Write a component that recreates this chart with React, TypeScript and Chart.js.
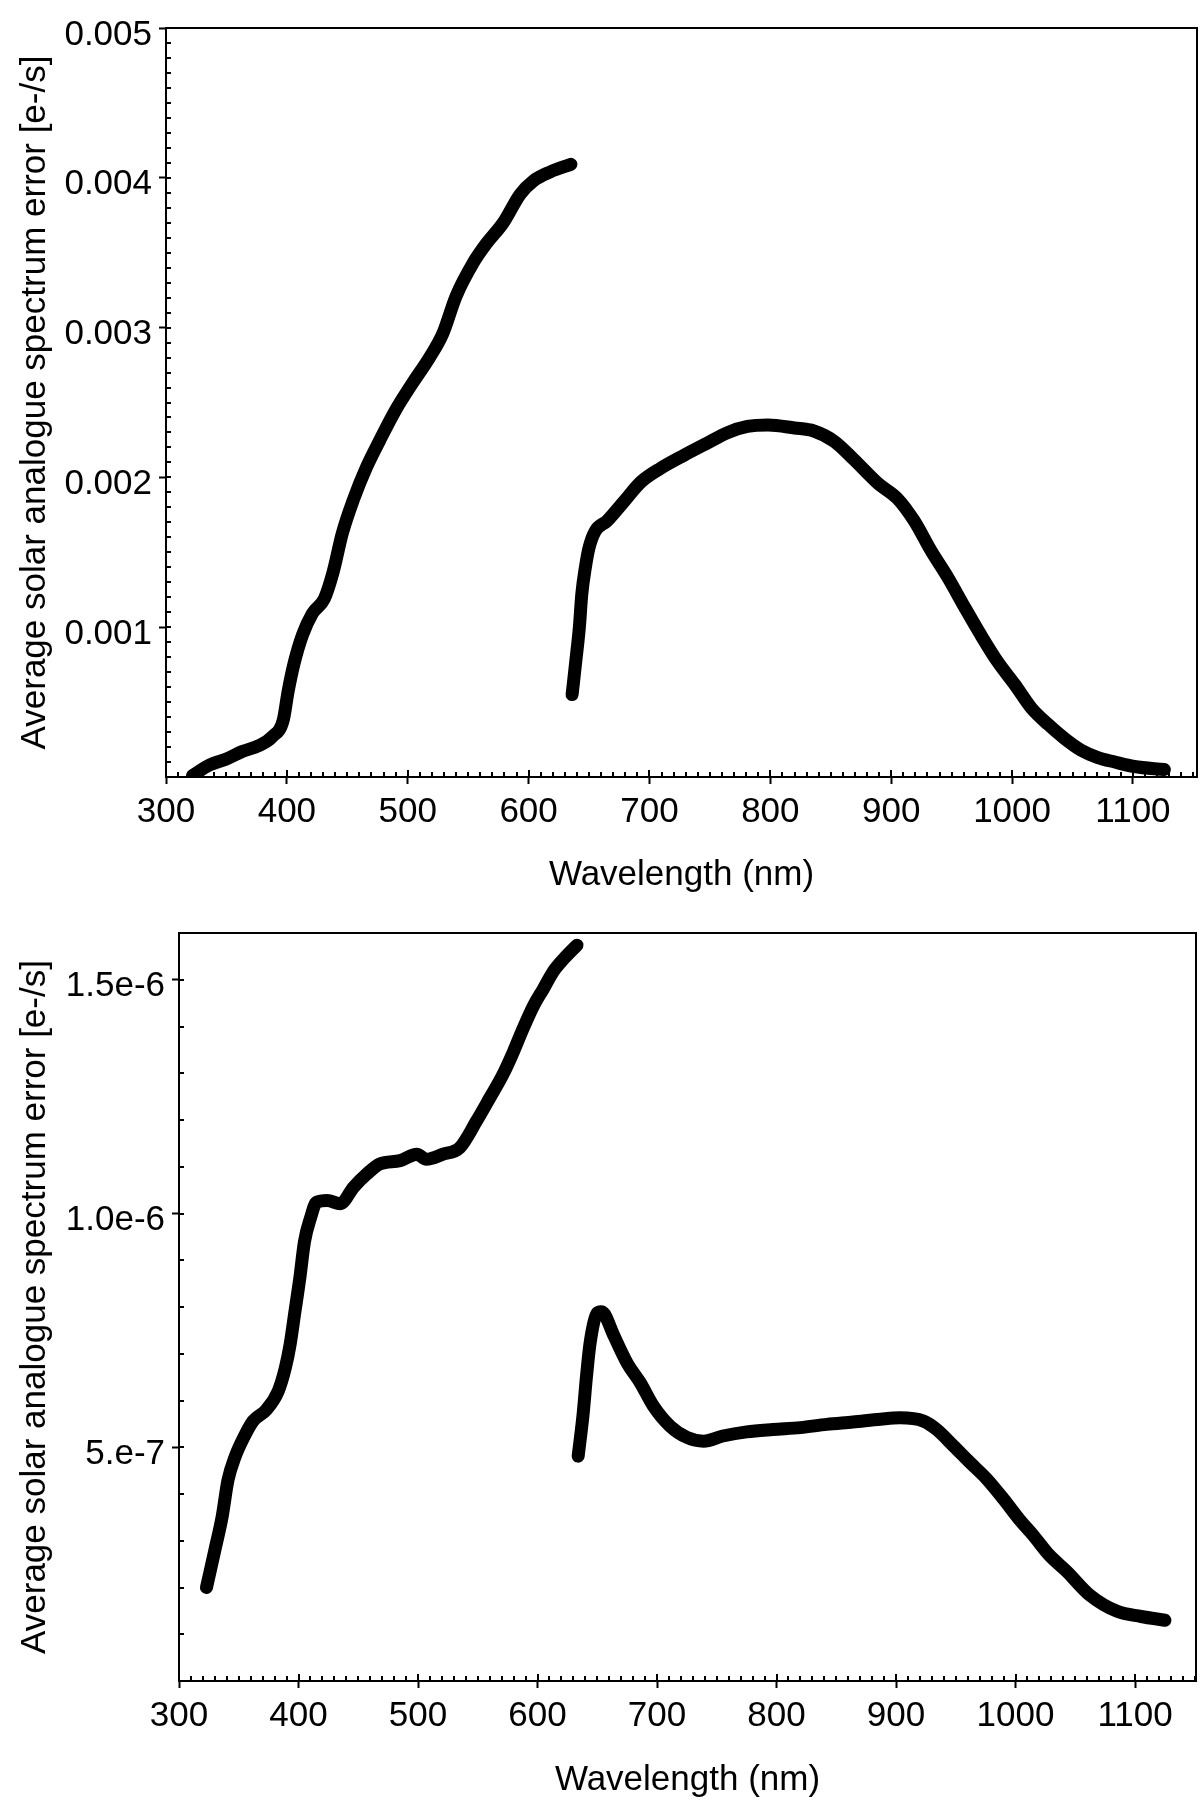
import React, { useEffect, useRef } from 'react';
import { Chart, registerables, ChartConfiguration, Plugin } from 'chart.js';
Chart.register(...registerables);

// tick values / labels
const xTickValues = [300, 400, 500, 600, 700, 800, 900, 1000, 1100];
const topYTickValues = [0.001, 0.002, 0.003, 0.004, 0.005];
const topYTickLabels = ['0.001', '0.002', '0.003', '0.004', '0.005'];
const bottomYTickValues = [5e-7, 1.0e-6, 1.5e-6];
const bottomYTickLabels = ['5.e-7', '1.0e-6', '1.5e-6'];

// top panel, short-wavelength arm
const topShortNm = [322, 336, 350, 363, 377, 388, 397, 401, 406, 413, 421, 431, 438, 446, 455, 466, 477, 490, 504, 518, 529, 540, 554, 565, 579, 593, 604, 618, 635];
const topShortErr = [0.00001, 0.00008, 0.00012, 0.00017, 0.00021, 0.00027, 0.00038, 0.00057, 0.00076, 0.00095, 0.00109, 0.00119, 0.00136, 0.00163, 0.00185, 0.00207, 0.00225, 0.00245, 0.00263, 0.0028, 0.00296, 0.00321, 0.00343, 0.00356, 0.0037, 0.00389, 0.00398, 0.00404, 0.00409];

// top panel, long-wavelength arm
const topLongNm = [636, 639, 642, 644, 647, 650, 655, 665, 679, 693, 709, 729, 748, 765, 781, 798, 820, 836, 853, 869, 889, 905, 919, 933, 947, 961, 974, 988, 1002, 1016, 1030, 1043, 1057, 1071, 1085, 1101, 1126];
const topLongErr = [0.00055, 0.00077, 0.001, 0.00122, 0.0014, 0.00153, 0.00164, 0.00171, 0.00184, 0.00197, 0.00206, 0.00215, 0.00223, 0.0023, 0.00234, 0.00235, 0.00233, 0.00231, 0.00224, 0.00212, 0.00196, 0.00186, 0.00171, 0.00151, 0.00133, 0.00113, 0.00095, 0.00077, 0.00062, 0.00046, 0.00035, 0.00026, 0.00018, 0.00013, 0.0001, 0.00007, 0.00005];

// bottom panel, short-wavelength arm
const bottomShortNm = [323, 330, 336, 341, 347, 354, 362, 373, 383, 389, 393, 397, 401, 405, 410, 415, 424, 435, 446, 457, 468, 485, 499, 507, 521, 535, 549, 560, 571, 580, 588, 597, 605, 613, 622, 633];
const bottomShortErr = [0.2e-6, 0.28e-6, 0.35e-6, 0.43e-6, 0.48e-6, 0.52e-6, 0.556e-6, 0.58e-6, 0.62e-6, 0.67e-6, 0.72e-6, 0.79e-6, 0.86e-6, 0.94e-6, 0.99e-6, 1.024e-6, 1.028e-6, 1.021e-6, 1.056e-6, 1.084e-6, 1.106e-6, 1.113e-6, 1.127e-6, 1.116e-6, 1.127e-6, 1.141e-6, 1.198e-6, 1.247e-6, 1.297e-6, 1.347e-6, 1.396e-6, 1.446e-6, 1.481e-6, 1.517e-6, 1.545e-6, 1.574e-6];

// bottom panel, long-wavelength arm
const bottomLongNm = [634, 638, 641, 644, 650, 653, 656, 663, 675, 686, 697, 711, 725, 739, 755, 775, 797, 820, 842, 864, 887, 903, 923, 934, 948, 962, 976, 990, 1004, 1015, 1028, 1043, 1062, 1085, 1105, 1125];
const bottomLongErr = [0.481e-6, 0.567e-6, 0.652e-6, 0.723e-6, 0.787e-6, 0.79e-6, 0.785e-6, 0.744e-6, 0.68e-6, 0.638e-6, 0.588e-6, 0.545e-6, 0.521e-6, 0.513e-6, 0.524e-6, 0.533e-6, 0.538e-6, 0.542e-6, 0.549e-6, 0.554e-6, 0.56e-6, 0.563e-6, 0.556e-6, 0.538e-6, 0.503e-6, 0.467e-6, 0.432e-6, 0.389e-6, 0.343e-6, 0.311e-6, 0.27e-6, 0.234e-6, 0.184e-6, 0.149e-6, 0.138e-6, 0.13e-6];

const FONT = "'Liberation Sans', Arial, sans-serif";

// closed frame + small inward minor ticks
const frameTicks: Plugin = {
  id: 'frameTicks',
  afterDraw(chart, _args, opts: any) {
    const { ctx, chartArea: a } = chart;
    const xs = chart.scales.x;
    const ys = chart.scales.y;
    ctx.save();
    ctx.strokeStyle = '#000';
    ctx.lineWidth = 2;
    ctx.strokeRect(a.left, a.top, a.right - a.left, a.bottom - a.top);
    ctx.beginPath();
    const nx = Math.round((xs.max - xs.min) / opts.xMinor);
    for (let i = 0; i <= nx; i++) {
      const v = xs.min + i * opts.xMinor;
      const px = Math.round(xs.getPixelForValue(v));
      const len = i % 10 === 0 ? 7 : 5;
      ctx.moveTo(px, a.bottom);
      ctx.lineTo(px, a.bottom - len);
    }
    const ny = Math.round((ys.max - ys.min) / opts.yMinor);
    for (let i = 0; i <= ny; i++) {
      const v = ys.min + i * opts.yMinor;
      const py = Math.round(ys.getPixelForValue(v));
      ctx.moveTo(a.left, py);
      ctx.lineTo(a.left + 5, py);
    }
    ctx.stroke();
    ctx.restore();
  },
};

const toPoints = (xs: number[], ys: number[]) => xs.map((x, i) => ({ x, y: ys[i] }));

const lineStyle = {
  borderColor: '#000',
  backgroundColor: '#000',
  borderWidth: 13,
  borderCapStyle: 'round' as const,
  borderJoinStyle: 'round' as const,
  pointRadius: 0,
  cubicInterpolationMode: 'monotone' as const,
  fill: false,
};

interface PanelSpec {
  series: { x: number; y: number }[][];
  xMax: number;
  yMax: number;
  yTicks: number[];
  yLabels: string[];
  yMinor: number;
  yWidth: number;
  xHeight: number;
  padTop: number;
  padRight: number;
}

function makeConfig(p: PanelSpec): ChartConfiguration {
  const font = { family: FONT, size: 35 };
  return {
    type: 'line',
    data: {
      datasets: p.series.map((d) => ({ data: d, ...lineStyle })) as any,
    },
    options: {
      responsive: false,
      animation: false,
      devicePixelRatio: 1,
      events: [],
      layout: { padding: { top: p.padTop, right: p.padRight, bottom: 4, left: 0 } },
      scales: {
        x: {
          type: 'linear',
          min: 300,
          max: p.xMax,
          afterBuildTicks: (s: any) => { s.ticks = xTickValues.map((v) => ({ value: v })); },
          afterFit: (s: any) => { s.height = p.xHeight; },
          grid: { drawOnChartArea: false, drawTicks: true, tickLength: 7, tickColor: '#000', tickWidth: 2 },
          border: { display: false },
          ticks: { color: '#000', font, padding: 7, maxRotation: 0, autoSkip: false, callback: (v: any) => String(v) },
          title: { display: true, text: 'Wavelength (nm)', color: '#000', font, padding: { top: 0, bottom: 0 } },
        },
        y: {
          type: 'linear',
          min: 0,
          max: p.yMax,
          afterBuildTicks: (s: any) => { s.ticks = p.yTicks.map((v) => ({ value: v })); },
          afterFit: (s: any) => { s.width = p.yWidth; },
          grid: { drawOnChartArea: false, drawTicks: true, tickLength: 7, tickColor: '#000', tickWidth: 2 },
          border: { display: false },
          ticks: { color: '#000', font, padding: 7, labelOffset: 7, autoSkip: false, callback: (_v: any, i: number) => p.yLabels[i] },
          title: {
            display: true,
            text: 'Average solar analogue spectrum error [e-/s]',
            color: '#000',
            font,
            padding: { top: 14, bottom: 0 },
          },
        },
      },
      plugins: {
        legend: { display: false },
        tooltip: { enabled: false },
        frameTicks: { xMinor: 10, yMinor: p.yMinor },
      } as any,
    },
    plugins: [frameTicks],
  };
}

const Panel: React.FC<{ spec: PanelSpec; height: number }> = ({ spec, height }) => {
  const canvasRef = useRef<HTMLCanvasElement>(null);
  useEffect(() => {
    if (!canvasRef.current) return;
    const chart = new Chart(canvasRef.current, makeConfig(spec));
    return () => chart.destroy();
  }, [spec]);
  return <canvas ref={canvasRef} width={1200} height={height} style={{ display: 'block', width: 1200, height }} />;
};

const topSpec: PanelSpec = {
  series: [toPoints(topShortNm, topShortErr), toPoints(topLongNm, topLongErr)],
  xMax: 1153,
  yMax: 0.005,
  yTicks: topYTickValues,
  yLabels: topYTickLabels,
  yMinor: 0.0001,
  yWidth: 166,
  xHeight: 119,
  padTop: 26,
  padRight: 3,
};

const bottomSpec: PanelSpec = {
  series: [toPoints(bottomShortNm, bottomShortErr), toPoints(bottomLongNm, bottomLongErr)],
  xMax: 1151,
  yMax: 1.6e-6,
  yTicks: bottomYTickValues,
  yLabels: bottomYTickLabels,
  yMinor: 1e-7,
  yWidth: 179,
  xHeight: 120,
  padTop: 33,
  padRight: 4,
};

export default function App() {
  return (
    <div style={{ position: 'absolute', left: 0, top: 0, width: 1200, height: 1805, background: '#fff' }}>
      <Panel spec={topSpec} height={900} />
      <Panel spec={bottomSpec} height={905} />
    </div>
  );
}
